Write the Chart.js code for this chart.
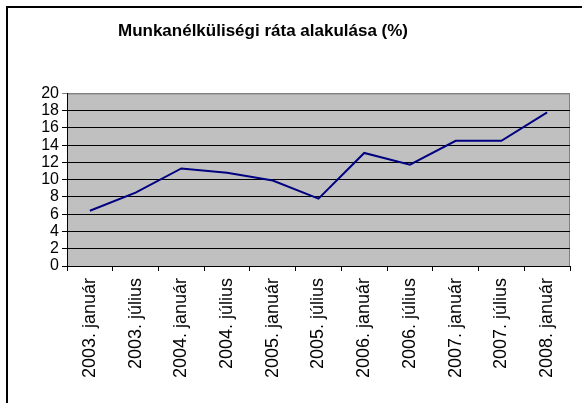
<!DOCTYPE html>
<html>
<head>
<meta charset="utf-8">
<script src="https://cdn.jsdelivr.net/npm/chart.js@4/dist/chart.umd.min.js"></script>
<style>
  html, body { margin: 0; padding: 0; background: #fff; }
  #wrap { width: 582px; height: 403px; position: relative; }
</style>
</head>
<body>
<div id="wrap"><canvas id="rateChart"></canvas></div>
<script>
// chart data
const categories = [
  '2003. január', '2003. július', '2004. január', '2004. július',
  '2005. január', '2005. július', '2006. január', '2006. július',
  '2007. január', '2007. július', '2008. január'
];
const rateValues = [6.4, 8.5, 11.3, 10.8, 9.9, 7.8, 13.1, 11.75, 14.5, 14.5, 17.8];
const yTicks = [0, 2, 4, 6, 8, 10, 12, 14, 16, 18, 20];
const chartTitle = 'Munkanélküliségi ráta alakulása (%)';

(function () {
  const canvas = document.getElementById('rateChart');
  const ctx = canvas.getContext('2d');
  const fontFamily = 'Liberation Sans, Arial, sans-serif';

  // gray plot background + outer frame, Excel style
  const excelLook = {
    id: 'excelLook',
    afterLayout(chart) {
      // title sits a bit left of the canvas centre in the original
      const t = chart.titleBlock;
      if (t) { t.left = 0; t.right = 526; t.width = 526; }
    },
    beforeDraw(chart) {
      const a = chart.chartArea;
      const c = chart.ctx;
      c.save();
      c.fillStyle = '#c0c0c0';
      c.fillRect(a.left, a.top, a.right - a.left, a.bottom - a.top);
      c.strokeStyle = '#808080';
      c.lineWidth = 1;
      c.strokeRect(a.left + 0.5, a.top + 0.5, a.right - a.left - 1, a.bottom - a.top);
      c.restore();
    },
    afterDraw(chart) {
      const c = chart.ctx;
      c.save();
      c.strokeStyle = '#000';
      c.lineWidth = 2;
      c.strokeRect(7, 7, 700, 500);
      c.restore();
    }
  };

  new Chart(ctx, {
    type: 'line',
    data: {
      labels: categories,
      datasets: [{
        label: 'Munkanélküliségi ráta',
        data: rateValues,
        borderColor: '#000080',
        backgroundColor: '#000080',
        borderWidth: 2,
        pointRadius: 0,
        tension: 0
      }]
    },
    options: {
      responsive: true,
      maintainAspectRatio: false,
      animation: false,
      layout: { padding: { left: 0, right: 12, top: 0, bottom: 0 } },
      plugins: {
        legend: { display: false },
        tooltip: { enabled: false },
        title: {
          display: true,
          text: chartTitle,
          color: '#000',
          font: { family: fontFamily, size: 17, weight: 'bold', lineHeight: 1.2 },
          padding: { top: 21, bottom: 52 }
        }
      },
      scales: {
        x: {
          offset: true,
          grid: {
            offset: true,
            drawOnChartArea: false,
            color: '#000',
            tickLength: 5
          },
          border: { color: '#000', width: 1 },
          ticks: {
            color: '#000',
            minRotation: 90,
            maxRotation: 90,
            autoSkip: false,
            padding: 7,
            font: { family: fontFamily, size: 18 }
          },
          afterFit(scale) { scale.height = 137; }
        },
        y: {
          min: 0,
          max: 20,
          afterBuildTicks(scale) { scale.ticks = yTicks.map(v => ({ value: v })); },
          grid: {
            color: (c) => (c.tick && c.tick.value === 20 ? '#808080' : '#000'),
            tickLength: 5,
            drawTicks: true
          },
          border: { color: '#000', width: 1 },
          ticks: {
            color: '#000',
            autoSkip: false,
            padding: 3,
            font: { family: fontFamily, size: 16 }
          },
          afterFit(scale) { scale.width = 67; }
        }
      }
    },
    plugins: [excelLook]
  });
})();
</script>
</body>
</html>
